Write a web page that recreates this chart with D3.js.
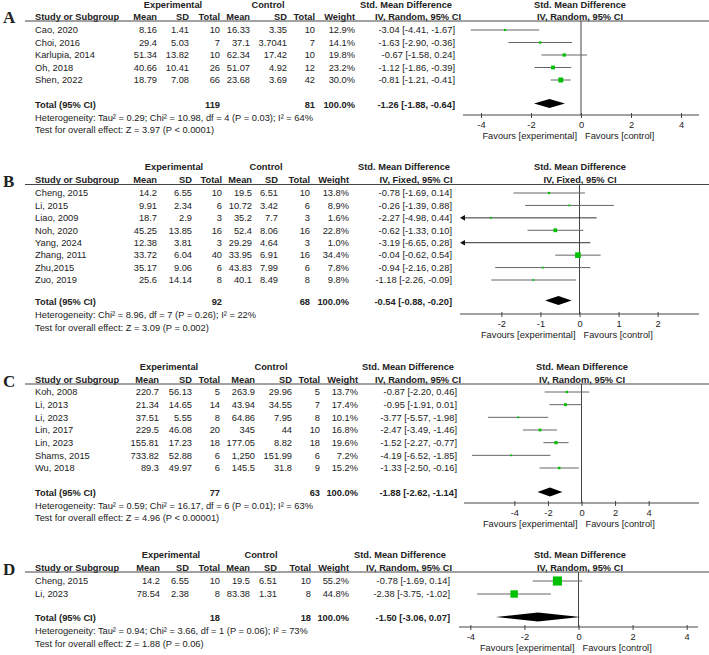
<!DOCTYPE html>
<html>
<head>
<meta charset="utf-8">
<script src="https://cdn.jsdelivr.net/npm/d3@7.9.0/dist/d3.min.js"></script>
<style>
  body { margin: 0; background: #fff; }
  svg text { font-family: "Liberation Sans", Arial, sans-serif; fill: #222; }
</style>
</head>
<body>
<svg id="chart" width="709" height="655"></svg>
<script>
// ---- data ----
// table cells: exp mean, exp SD, exp n, ctl mean, ctl SD, ctl n, weight
const studiesA = ['Cao, 2020', 'Choi, 2016', 'Karlupia, 2014', 'Oh, 2018', 'Shen, 2022'];
const cellsA = [
  ['8.16', '1.41', '10', '16.33', '3.35', '10', '12.9%'],
  ['29.4', '5.03', '7', '37.1', '3.7041', '7', '14.1%'],
  ['51.34', '13.82', '10', '62.34', '17.42', '10', '19.8%'],
  ['40.66', '10.41', '26', '51.07', '4.92', '12', '23.2%'],
  ['18.79', '7.08', '66', '23.68', '3.69', '42', '30.0%']
];
const weightA = [12.9, 14.1, 19.8, 23.2, 30.0];
const smdA = [-3.04, -1.63, -0.67, -1.12, -0.81];
const loA = [-4.41, -2.90, -1.58, -1.86, -1.21];
const hiA = [-1.67, -0.36, 0.24, -0.39, -0.41];
const totalA = ['119', '81', -1.26, -1.88, -0.64];
const hetA = 'Heterogeneity: Tau² = 0.29; Chi² = 10.98, df = 4 (P = 0.03); I² = 64%';
const testA = 'Test for overall effect: Z = 3.97 (P < 0.0001)';
const ticksA = [-4, -2, 0, 2, 4];

const studiesB = ['Cheng, 2015', 'Li, 2015', 'Liao, 2009', 'Noh, 2020', 'Yang, 2024', 'Zhang, 2011', 'Zhu,2015', 'Zuo, 2019'];
const cellsB = [
  ['14.2', '6.55', '10', '19.5', '6.51', '10', '13.8%'],
  ['9.91', '2.34', '6', '10.72', '3.42', '6', '8.9%'],
  ['18.7', '2.9', '3', '35.2', '7.7', '3', '1.6%'],
  ['45.25', '13.85', '16', '52.4', '8.06', '16', '22.8%'],
  ['12.38', '3.81', '3', '29.29', '4.64', '3', '1.0%'],
  ['33.72', '6.04', '40', '33.95', '6.91', '16', '34.4%'],
  ['35.17', '9.06', '6', '43.83', '7.99', '6', '7.8%'],
  ['25.6', '14.14', '8', '40.1', '8.49', '8', '9.8%']
];
const weightB = [13.8, 8.9, 1.6, 22.8, 1.0, 34.4, 7.8, 9.8];
const smdB = [-0.78, -0.26, -2.27, -0.62, -3.19, -0.04, -0.94, -1.18];
const loB = [-1.69, -1.39, -4.98, -1.33, -6.65, -0.62, -2.16, -2.26];
const hiB = [0.14, 0.88, 0.44, 0.10, 0.28, 0.54, 0.28, -0.09];
const totalB = ['92', '68', -0.54, -0.88, -0.20];
const hetB = 'Heterogeneity: Chi² = 8.96, df = 7 (P = 0.26); I² = 22%';
const testB = 'Test for overall effect: Z = 3.09 (P = 0.002)';
const ticksB = [-2, -1, 0, 1, 2];

const studiesC = ['Koh, 2008', 'Li, 2013', 'Li, 2023', 'Lin, 2017', 'Lin, 2023', 'Shams, 2015', 'Wu, 2018'];
const cellsC = [
  ['220.7', '56.13', '5', '263.9', '29.96', '5', '13.7%'],
  ['21.34', '14.65', '14', '43.94', '34.55', '7', '17.4%'],
  ['37.51', '5.55', '8', '64.86', '7.95', '8', '10.1%'],
  ['229.5', '46.08', '20', '345', '44', '10', '16.8%'],
  ['155.81', '17.23', '18', '177.05', '8.82', '18', '19.6%'],
  ['733.82', '52.88', '6', '1,250', '151.99', '6', '7.2%'],
  ['89.3', '49.97', '6', '145.5', '31.8', '9', '15.2%']
];
const weightC = [13.7, 17.4, 10.1, 16.8, 19.6, 7.2, 15.2];
const smdC = [-0.87, -0.95, -3.77, -2.47, -1.52, -4.19, -1.33];
const loC = [-2.20, -1.91, -5.57, -3.49, -2.27, -6.52, -2.50];
const hiC = [0.46, 0.01, -1.98, -1.46, -0.77, -1.85, -0.16];
const totalC = ['77', '63', -1.88, -2.62, -1.14];
const hetC = 'Heterogeneity: Tau² = 0.59; Chi² = 16.17, df = 6 (P = 0.01); I² = 63%';
const testC = 'Test for overall effect: Z = 4.96 (P < 0.00001)';
const ticksC = [-4, -2, 0, 2, 4];

const studiesD = ['Cheng, 2015', 'Li, 2023'];
const cellsD = [
  ['14.2', '6.55', '10', '19.5', '6.51', '10', '55.2%'],
  ['78.54', '2.38', '8', '83.38', '1.31', '8', '44.8%']
];
const weightD = [55.2, 44.8];
const smdD = [-0.78, -2.38];
const loD = [-1.69, -3.75];
const hiD = [0.14, -1.02];
const totalD = ['18', '18', -1.50, -3.06, 0.07];
const hetD = 'Heterogeneity: Tau² = 0.94; Chi² = 3.66, df = 1 (P = 0.06); I² = 73%';
const testD = 'Test for overall effect: Z = 1.88 (P = 0.06)';
const ticksD = [-4, -2, 0, 2, 4];

const svg = d3.select('#chart');
const FS = 9.3;
const lineCol = '#666';
const boxCol = '#00c000';

// square side from weight (%)
const boxSize = d3.scaleLinear().domain([0, 100]).range([0, 16.5]);

function txt(g, x, y, s, anchor, bold) {
  return g.append('text')
    .attr('x', x).attr('y', y).attr('dy', '0.35em')
    .attr('font-size', FS)
    .attr('text-anchor', anchor || 'start')
    .attr('font-weight', bold ? 'bold' : null)
    .text(s);
}

function drawPanel(p) {
  const g = svg.append('g');
  const c = p.cols;

  // panel letter
  g.append('text')
    .attr('x', 3).attr('y', p.hdrY).attr('dy', '0.4em')
    .attr('font-size', 17).attr('font-weight', 'bold')
    .style('font-family', '"Liberation Serif", "Times New Roman", serif')
    .text(p.letter);

  // group headers
  txt(g, c.exp, p.grpY, 'Experimental', 'middle', true);
  txt(g, c.ctl, p.grpY, 'Control', 'middle', true);
  txt(g, c.ciHead, p.grpY, 'Std. Mean Difference', 'middle', true);
  txt(g, c.plotHead, p.grpY, 'Std. Mean Difference', 'middle', true);

  // column headers
  txt(g, 35, p.hdrY, 'Study or Subgroup', 'start', true);
  const hdrs = ['Mean', 'SD', 'Total', 'Mean', 'SD', 'Total', 'Weight'];
  hdrs.forEach((h, i) => txt(g, c.x[i], p.hdrY, h, 'end', true));
  txt(g, c.ivHead, p.hdrY, p.method, 'middle', true);
  txt(g, c.plotHead, p.hdrY, p.method, 'middle', true);

  g.append('line')
    .attr('x1', 25).attr('x2', 709)
    .attr('y1', p.ruleY).attr('y2', p.ruleY)
    .attr('stroke', '#444').attr('stroke-width', 1);

  const rowY = d3.scaleLinear()
    .domain([0, p.studies.length - 1])
    .range([p.row0, p.rowN]);

  // table rows
  p.studies.forEach((s, i) => {
    const y = rowY(i);
    txt(g, 35, y, s);
    p.cells[i].forEach((v, j) => txt(g, c.x[j], y, v, 'end'));
    txt(g, c.ci, y, `${p.smd[i].toFixed(2)} [${p.lo[i].toFixed(2)}, ${p.hi[i].toFixed(2)}]`, 'end');
  });

  // total row
  const t = p.total;
  txt(g, 35, p.totalY, 'Total (95% CI)', 'start', true);
  txt(g, c.x[2], p.totalY, t[0], 'end', true);
  txt(g, c.x[5], p.totalY, t[1], 'end', true);
  txt(g, c.x[6], p.totalY, '100.0%', 'end', true);
  txt(g, c.ci, p.totalY, `${t[2].toFixed(2)} [${t[3].toFixed(2)}, ${t[4].toFixed(2)}]`, 'end', true);
  txt(g, 35, p.hetY, p.het);
  txt(g, 35, p.testY, p.test);

  // forest plot
  const x = d3.scaleLinear().domain(p.domain).range(p.range);
  const [xMin, xMax] = p.range;

  // zero line
  g.append('line')
    .attr('x1', x(0)).attr('x2', x(0))
    .attr('y1', p.ruleY).attr('y2', p.axisY)
    .attr('stroke', '#444');

  p.studies.forEach((s, i) => {
    const y = rowY(i);
    const clipped = p.lo[i] < p.domain[0];
    const x1 = clipped ? xMin + 4 : x(p.lo[i]);
    g.append('line')
      .attr('x1', x1).attr('x2', Math.min(x(p.hi[i]), xMax))
      .attr('y1', y).attr('y2', y)
      .attr('stroke', clipped ? '#333' : lineCol).attr('stroke-width', 1);
    if (clipped) {
      g.append('path')
        .attr('d', `M${xMin},${y}L${xMin + 5},${y - 2.8}L${xMin + 5},${y + 2.8}Z`)
        .attr('fill', '#111');
    }
    // estimate outside the plotted range: no square
    if (p.smd[i] < p.domain[0]) return;
    const b = Math.max(1.8, boxSize(p.weight[i]));
    g.append('rect')
      .attr('x', x(p.smd[i]) - b / 2).attr('y', y - b / 2)
      .attr('width', b).attr('height', b)
      .attr('fill', boxCol);
  });

  // summary diamond
  const dy = p.totalY - 1, dh = 4.5;
  g.append('path')
    .attr('d', `M${x(t[3])},${dy}L${x(t[2])},${dy - dh}L${x(t[4])},${dy}L${x(t[2])},${dy + dh}Z`)
    .attr('fill', '#000');

  // axis
  const ax = g.append('g')
    .attr('transform', `translate(0,${p.axisY})`)
    .call(d3.axisBottom(x).tickValues(p.ticks).tickFormat(d => String(d))
      .tickSize(3).tickPadding(3).tickSizeOuter(0));
  ax.select('.domain').remove();
  ax.selectAll('.tick line').attr('y1', -2).attr('y2', 3).attr('stroke', '#444');
  ax.selectAll('.tick text').attr('font-size', FS).attr('font-family', null).attr('fill', '#222');
  g.append('line')
    .attr('x1', xMin).attr('x2', xMax)
    .attr('y1', p.axisY).attr('y2', p.axisY)
    .attr('stroke', '#444');

  txt(g, x(0) - 4, p.axisY + 21, 'Favours [experimental]', 'end');
  txt(g, x(0) + 4, p.axisY + 21, 'Favours [control]', 'start');
}

drawPanel({
  letter: 'A', method: 'IV, Random, 95% CI',
  studies: studiesA, cells: cellsA, weight: weightA, smd: smdA, lo: loA, hi: hiA,
  total: totalA, het: hetA, test: testA, ticks: ticksA,
  domain: [-4.72, 4.72], range: [463, 699],
  cols: { x: [157, 189, 220, 250, 287, 315, 355], ci: 455, exp: 173, ctl: 268, ciHead: 406, ivHead: 418, plotHead: 580 },
  grpY: 5, hdrY: 16.5, ruleY: 21, row0: 30, rowN: 80, totalY: 104.5, hetY: 117.5, testY: 130, axisY: 115
});

drawPanel({
  letter: 'B', method: 'IV, Fixed, 95% CI',
  studies: studiesB, cells: cellsB, weight: weightB, smd: smdB, lo: loB, hi: hiB,
  total: totalB, het: hetB, test: testB, ticks: ticksB,
  domain: [-3.06, 3.06], range: [460, 699],
  cols: { x: [157, 192, 222, 252, 278, 310, 349], ci: 452, exp: 174, ctl: 266, ciHead: 404, ivHead: 416, plotHead: 580 },
  grpY: 167, hdrY: 180, ruleY: 184.5, row0: 193, rowN: 280, totalY: 301.5, hetY: 314.5, testY: 327.5, axisY: 314
});

drawPanel({
  letter: 'C', method: 'IV, Random, 95% CI',
  studies: studiesC, cells: cellsC, weight: weightC, smd: smdC, lo: loC, hi: hiC,
  total: totalC, het: hetC, test: testC, ticks: ticksC,
  domain: [-7, 7], range: [464, 699],
  cols: { x: [159, 192, 220, 255, 292, 320, 358], ci: 457, exp: 169, ctl: 271, ciHead: 408, ivHead: 418, plotHead: 582 },
  grpY: 367, hdrY: 380, ruleY: 384, row0: 392, rowN: 468, totalY: 493, hetY: 505.5, testY: 518, axisY: 503
});

drawPanel({
  letter: 'D', method: 'IV, Random, 95% CI',
  studies: studiesD, cells: cellsD, weight: weightD, smd: smdD, lo: loD, hi: hiD,
  total: totalD, het: hetD, test: testD, ticks: ticksD,
  domain: [-4.42, 4.42], range: [459, 698],
  cols: { x: [160, 189, 220, 250, 277, 311, 349], ci: 450, exp: 171, ctl: 261, ciHead: 400, ivHead: 409, plotHead: 580 },
  grpY: 555, hdrY: 568, ruleY: 572, row0: 581, rowN: 594, totalY: 618, hetY: 631, testY: 644, axisY: 627
});
</script>
</body>
</html>
